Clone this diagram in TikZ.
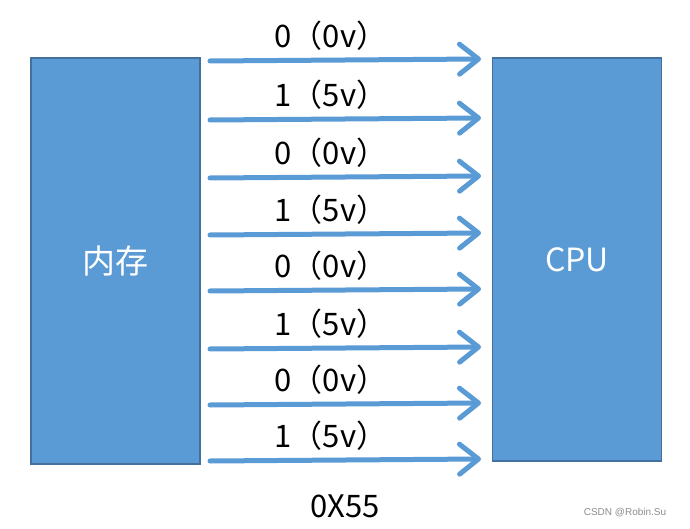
\documentclass[tikz,border=0pt]{standalone}
\usepackage{fontspec}
\newfontfamily\cjk{Noto Sans CJK SC}
\newfontfamily\markfont{Liberation Sans}
\usetikzlibrary{arrows.meta}
\definecolor{boxblue}{HTML}{5B9BD5}
\definecolor{boxedge}{HTML}{41719C}
\tikzset{
  unit/.style={draw=boxedge, line width=1.5pt, fill=boxblue, text=white,
    minimum width=169pt, inner sep=0pt},
  bit/.style={draw=boxblue, line width=5pt, line cap=round,
    -{Straight Barb[length=19pt,width=30pt,round]}},
  bitlabel/.style={font=\cjk\fontsize{31}{31}\selectfont, inner sep=0pt},
}
\begin{document}
\begin{tikzpicture}[x=1pt,y=-1pt]
  \useasboundingbox (0,0) rectangle (690,529);
  % 内存 与 CPU
  \node[unit, minimum height=406pt, font=\cjk\fontsize{33}{33}\selectfont] (mem) at (115.5,261) {内存};
  \node[unit, minimum height=403pt, font=\cjk\fontsize{32}{32}\selectfont] (cpu) at (577,259.5) {\raisebox{-3pt}{CPU}};
  % 8 根数据线
  \foreach \y/\txt [count=\i] in {61/0（0v）,120/1（5v）,178/0（0v）,235/1（5v）,
      291/0（0v）,349/1（5v）,405/0（0v）,461/1（5v）}{
    \coordinate (s\i) at (210,\y);
    \coordinate (e\i) at (481,\y-2);
    \draw[bit] (s\i) -- (e\i);
    \node[bitlabel] (lbl\i) at (331,\y-25) {\txt};
  }
  % 结果
  \node[font=\cjk\fontsize{31}{31}\selectfont] (val) at (345,506) {0X55};
  \node[font=\markfont\fontsize{10}{10}\selectfont, text=black!45] (wm) at (625,513) {CSDN @Robin.Su};
\end{tikzpicture}
\end{document}
